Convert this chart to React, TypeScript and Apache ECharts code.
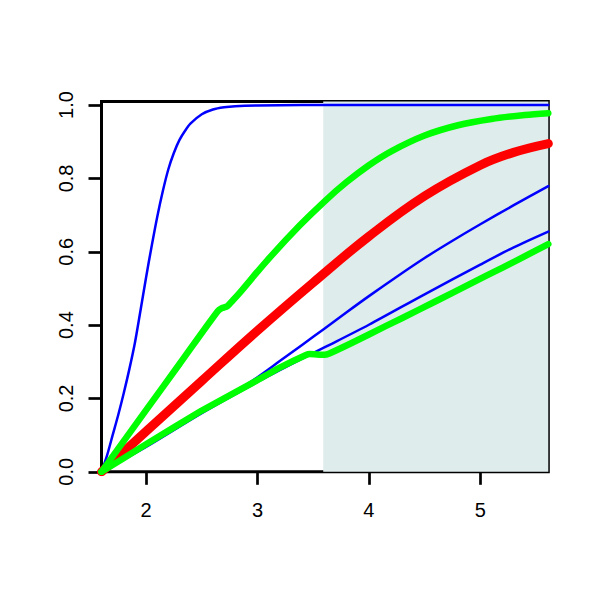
import React, { useEffect, useRef } from "react";
import * as echarts from "echarts";

// x-axis / y-axis settings
const xMin = 1.6;
const xMax = 5.61;
const yMin = 0;
const yMax = 1.01;
const xTicks = [2, 3, 4, 5];
const yTicks = [0, 0.2, 0.4, 0.6, 0.8, 1.0];
const shadeFrom = 3.59;

// Blue steep curve
const blueSteepX = [1.6, 1.65, 1.7, 1.75, 1.8, 1.85, 1.9, 1.95, 2.0, 2.05, 2.1, 2.15, 2.2, 2.25, 2.3, 2.35, 2.4, 2.5, 2.6, 2.7, 2.8, 3.0, 3.4, 5.61];
const blueSteepY = [0, 0.045, 0.1, 0.155, 0.215, 0.28, 0.352, 0.44, 0.53, 0.615, 0.695, 0.765, 0.825, 0.87, 0.905, 0.93, 0.95, 0.975, 0.988, 0.994, 0.997, 0.999, 1.0, 1.0];

// Blue middle curve
const blueMidX = [1.6, 2.0, 2.5, 2.8, 3.0, 3.2, 3.4, 3.6, 3.8, 4.0, 4.25, 4.5, 4.75, 5.0, 5.3, 5.61];
const blueMidY = [0, 0.072, 0.165, 0.218, 0.258, 0.302, 0.346, 0.39, 0.435, 0.479, 0.532, 0.583, 0.63, 0.675, 0.727, 0.779];

// Blue lower curve
const blueLowX = [1.6, 2.0, 2.5, 3.0, 3.3, 3.6, 4.0, 4.5, 5.0, 5.3, 5.61];
const blueLowY = [0, 0.068, 0.16, 0.245, 0.293, 0.339, 0.401, 0.484, 0.565, 0.612, 0.655];

// Red curve
const redX = [1.6, 2.0, 2.5, 3.0, 3.5, 4.0, 4.5, 5.0, 5.3, 5.61];
const redY = [0, 0.11, 0.248, 0.385, 0.516, 0.642, 0.752, 0.836, 0.871, 0.895];

// Green upper curve
const greenUpX = [1.6, 2.0, 2.3, 2.643, 2.68, 2.73, 2.78, 2.84, 3.08, 3.38, 3.6, 3.8, 4.0, 4.2, 4.5, 4.8, 5.1, 5.4, 5.61];
const greenUpY = [0, 0.168, 0.294, 0.438, 0.446, 0.452, 0.468, 0.488, 0.574, 0.672, 0.737, 0.79, 0.836, 0.874, 0.917, 0.945, 0.962, 0.973, 0.978];

// Green lower curve
const greenLowX = [1.6, 2.0, 2.5, 3.0, 3.2, 3.44, 3.47, 3.6, 3.64, 3.85, 4.15, 4.45, 4.75, 5.05, 5.35, 5.61];
const greenLowY = [0, 0.075, 0.167, 0.25, 0.284, 0.319, 0.321, 0.319, 0.322, 0.352, 0.397, 0.442, 0.488, 0.534, 0.58, 0.621];

const pairs = (xs: number[], ys: number[]) => xs.map((x, i) => [x, ys[i]]);

const FONT = "'Liberation Sans', Arial, Helvetica, sans-serif";

export default function App() {
  const ref = useRef<HTMLDivElement>(null);
  useEffect(() => {
    if (!ref.current) return;
    const chart = echarts.init(ref.current, null, { renderer: "svg" });
    const lineSeries = (name: string, xs: number[], ys: number[], color: string, width: number, smooth: number, extra: any = {}) => ({
      name,
      type: "line",
      data: pairs(xs, ys),
      showSymbol: false,
      symbol: "none",
      smooth,
      lineStyle: { color, width, cap: "round", join: "round" },
      silent: true,
      ...extra,
    });
    chart.setOption({
      animation: false,
      backgroundColor: "#ffffff",
      grid: {
        left: 101.5,
        right: 51.7,
        top: 101.4,
        bottom: 128.2,
        show: true,
        borderColor: "#000000",
        borderWidth: 3,
        backgroundColor: "transparent",
        outerBoundsMode: "none",
        containLabel: false,
      },
      xAxis: {
        type: "value",
        min: xMin,
        max: xMax,
        axisLine: { show: false },
        splitLine: { show: false },
        axisTick: {
          show: true,
          customValues: xTicks,
          length: 13,
          lineStyle: { color: "#000", width: 2.7 },
        },
        axisLabel: {
          customValues: xTicks,
          margin: 28,
          color: "#000",
          fontSize: 20,
          fontFamily: FONT,
          formatter: (v: number) => String(v),
        },
      },
      yAxis: {
        type: "value",
        min: yMin,
        max: yMax,
        axisLine: { show: false },
        splitLine: { show: false },
        axisTick: {
          show: true,
          customValues: yTicks,
          length: 13,
          lineStyle: { color: "#000", width: 2.7 },
        },
        axisLabel: {
          customValues: yTicks,
          rotate: 90,
          margin: 26,
          color: "#000",
          fontSize: 20,
          fontFamily: FONT,
          formatter: (v: number) => v.toFixed(1),
        },
      },
      series: [
        lineSeries("blueSteep", blueSteepX, blueSteepY, "#0000ff", 2.5, 0.3, {
          markArea: {
            silent: true,
            itemStyle: { color: "#dfecec" },
            data: [[{ xAxis: shadeFrom }, { xAxis: xMax }]],
          },
        }),
        lineSeries("blueMid", blueMidX, blueMidY, "#0000ff", 2.5, 0.3),
        lineSeries("blueLow", blueLowX, blueLowY, "#0000ff", 2.5, 0.3),
        lineSeries("red", redX, redY, "#ff0000", 9, 0.4),
        lineSeries("greenUp", greenUpX, greenUpY, "#00ff00", 6.5, 0.3),
        lineSeries("greenLow", greenLowX, greenLowY, "#00ff00", 6.5, 0.1),
      ],
    });
    return () => chart.dispose();
  }, []);
  return (
    <div
      ref={ref}
      style={{ position: "absolute", left: 0, top: 0, width: 600, height: 600 }}
    />
  );
}
